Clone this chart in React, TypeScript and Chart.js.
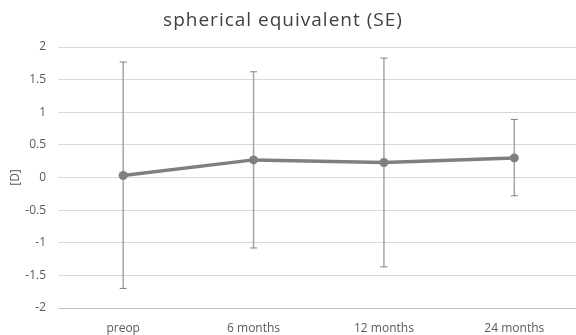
import React, { useEffect, useRef } from "react";
import { Chart, registerables } from "chart.js";

Chart.register(...registerables);

const chartTitle = "spherical equivalent (SE)";
const yAxisTitle = "[D]";
const categories = ["preop", "6 months", "12 months", "24 months"];
const meanValues = [0.03, 0.27, 0.23, 0.3];
const upperValues = [1.77, 1.62, 1.83, 0.89];
const lowerValues = [-1.7, -1.08, -1.37, -0.28];
const yMin = -2;
const yMax = 2;
const yStep = 0.5;

const FONT = "'Open Sans', 'Noto Sans', sans-serif";

const errorBarPlugin = {
  id: "errorBars",
  beforeDatasetsDraw(chart: any) {
    const { ctx, scales } = chart;
    const x = scales.x;
    const y = scales.y;
    ctx.save();
    categories.forEach((_c, i) => {
      const px = x.getPixelForValue(i);
      const top = y.getPixelForValue(upperValues[i]);
      const bot = y.getPixelForValue(lowerValues[i]);
      ctx.strokeStyle = "#a6a6a6";
      ctx.lineWidth = 1.5;
      ctx.beginPath();
      ctx.moveTo(px, top);
      ctx.lineTo(px, bot);
      ctx.stroke();
      ctx.strokeStyle = "#808080";
      ctx.lineWidth = 1;
      ctx.beginPath();
      ctx.moveTo(px - 3.5, top);
      ctx.lineTo(px + 3.5, top);
      ctx.moveTo(px - 3.5, bot);
      ctx.lineTo(px + 3.5, bot);
      ctx.stroke();
    });
    ctx.restore();
  },
};

const titlePlugin = {
  id: "stretchedTitle",
  afterDraw(chart: any) {
    const ctx = chart.ctx;
    ctx.save();
    ctx.font = `19px ${FONT}`;
    ctx.fillStyle = "#404040";
    ctx.textAlign = "center";
    ctx.textBaseline = "middle";
    (ctx as any).letterSpacing = "1px";
    ctx.fillText(chartTitle, chart.width / 2 - 9, 21);
    ctx.restore();
  },
};

export default function App() {
  const canvasRef = useRef<HTMLCanvasElement | null>(null);

  useEffect(() => {
    if (!canvasRef.current) return;
    const chart = new Chart(canvasRef.current, {
      type: "line",
      data: {
        labels: categories,
        datasets: [
          {
            label: "SE",
            data: meanValues,
            borderColor: "#7f7f7f",
            backgroundColor: "#7f7f7f",
            borderWidth: 3.5,
            pointRadius: 4.5,
            pointBackgroundColor: "#7f7f7f",
            pointBorderColor: "#7f7f7f",
            pointBorderWidth: 0,
            tension: 0,
          },
        ],
      },
      options: {
        animation: false,
        responsive: true,
        maintainAspectRatio: false,
        layout: { padding: { left: 8, right: 2, top: 47, bottom: 0 } },
        plugins: {
          legend: { display: false },
          tooltip: { enabled: false },
          title: { display: false },
        },
        scales: {
          x: {
            type: "category",
            offset: true,
            grid: { display: false, drawTicks: false },
            border: { display: false },
            ticks: {
              color: "#595959",
              font: { family: FONT, size: 12 },
              padding: 13,
              maxRotation: 0,
            },
            afterFit: (scale: any) => {
              scale.height = 27;
            },
          },
          y: {
            min: yMin,
            max: yMax,
            afterFit: (scale: any) => {
              scale.width = 50;
            },
            ticks: {
              stepSize: yStep,
              color: "#595959",
              font: { family: FONT, size: 12 },
              padding: 12,
              callback: (v: any) => String(Number(v)),
            },
            grid: {
              color: (ctx: any) => (ctx.tick && ctx.tick.value === yMin ? "#bfbfbf" : "#d9d9d9"),
              lineWidth: 1,
              drawTicks: false,
            },
            border: { display: false },
            title: {
              display: true,
              text: yAxisTitle,
              color: "#595959",
              font: { family: FONT, size: 12 },
              padding: { top: 0, bottom: 3 },
            },
          },
        },
      },
      plugins: [errorBarPlugin, titlePlugin],
    });
    return () => chart.destroy();
  }, []);

  return (
    <div
      style={{
        position: "fixed",
        left: 0,
        top: 0,
        width: 576,
        height: 335,
        overflow: "hidden",
        background: "#fff",
      }}
    >
      <div style={{ position: "relative", width: 584, height: 335 }}>
        <canvas ref={canvasRef} />
      </div>
    </div>
  );
}
